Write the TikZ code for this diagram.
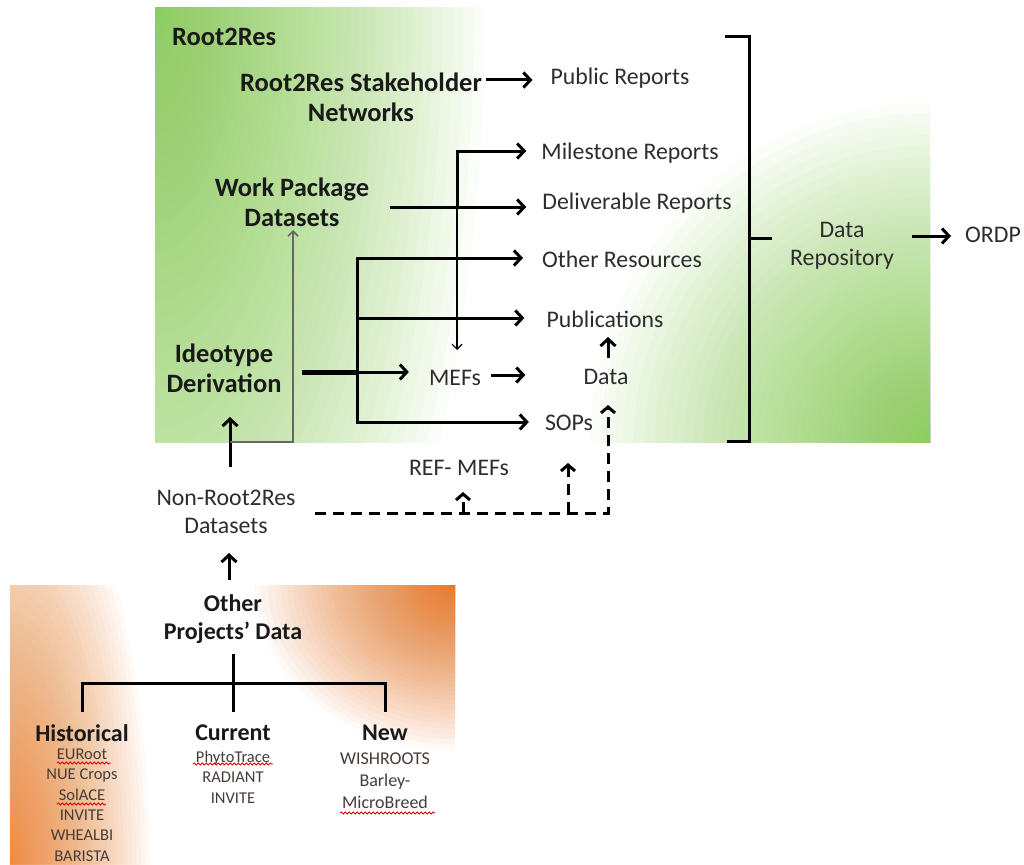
\documentclass[tikz,border=0pt]{standalone}
\usepackage{fontspec}
\setmainfont{Carlito}
\usetikzlibrary{arrows.meta,decorations.pathmorphing}
\definecolor{grnA}{RGB}{138,206,86}
\definecolor{orgA}{RGB}{232,115,30}
\definecolor{orgB}{RGB}{238,135,55}
\definecolor{ink}{RGB}{25,25,25}
\definecolor{ink2}{RGB}{45,45,45}
\definecolor{ink3}{RGB}{70,60,55}
\begin{document}
\begin{tikzpicture}[x=1pt,y=-1pt,
  bl/.style={font=\fontsize{26.5}{30}\selectfont\bfseries, align=center, inner sep=0pt, text=ink},
  bls/.style={font=\fontsize{24}{28}\selectfont\bfseries, align=center, inner sep=0pt, text=ink},
  rl/.style={font=\fontsize{23.8}{28}\selectfont, align=center, inner sep=0pt, text=ink2},
  sm/.style={font=\fontsize{16.5}{20.4}\selectfont, align=center, inner sep=0pt, text=ink3},
  smb/.style={font=\fontsize{18}{22}\selectfont, align=center, inner sep=0pt, text=ink3},
  arr/.style={line width=3pt, -{Straight Barb[length=7pt,width=15pt]}},
  thick3/.style={line width=3pt, line cap=rect},
  thinarr/.style={line width=1.2pt, -{Straight Barb[length=5pt,width=10pt]}},
  grarr/.style={line width=1.6pt, draw=black!60, -{Straight Barb[length=5pt,width=10pt]}},
  darr/.style={line width=3pt, dash pattern=on 11pt off 7pt, -{Straight Barb[length=6pt,width=14pt]}},
  squig/.style={draw=red!85!black, line width=0.8pt, decorate, decoration={snake, amplitude=1.1pt, segment length=4pt}},
  glow/.style={fill opacity=0.0377}
]
\useasboundingbox (0,0) rectangle (1024,864);
\fill[white] (0,0) rectangle (1024,864);
% green background: stacked translucent ellipses (quadratic radii)
\begin{scope}
\clip (155,8) rectangle (930,442);
\foreach \i in {1,...,60} {
  \fill[grnA, glow] (155,8) ellipse [x radius={\i*\i*0.09167}, y radius={\i*\i*0.2389}];
  \fill[grnA, glow] (930,442) ellipse [x radius={\i*\i*0.09444}, y radius={\i*\i*0.09444}];
}
\end{scope}
% orange background
\begin{scope}
\clip (10,585) rectangle (455,864);
\foreach \i in {1,...,60} {
  \fill[orgB, glow] (10,864) ellipse [x radius={\i*\i*0.03889}, y radius={\i*\i*0.11944}];
  \fill[orgA, glow] (455,585) ellipse [x radius={\i*\i*0.05556}, y radius={\i*\i*0.04583}];
}
\end{scope}

% texts green box
\node[bl, anchor=west] (title) at (172,37) {Root2Res};
\node[bl] (stake) at (361,97) {Root2Res Stakeholder\\Networks};
\node[rl] (pub) at (620,78) {Public Reports};
\node[rl] (mile) at (630,153) {Milestone Reports};
\node[rl] (deliv) at (637,203) {Deliverable Reports};
\node[rl] (other) at (622,259) {Other Resources};
\node[rl] (publ) at (605,319) {Publications};
\node[rl] (mefs) at (455,378) {MEFs};
\node[rl] (data) at (606,377) {Data};
\node[rl] (sops) at (569,423) {SOPs};
\node[bl] (wp) at (292,202) {Work Package\\Datasets};
\node[bl] (ideo) at (224,368) {Ideotype\\Derivation};
\node[rl] (repo) at (842,246) {Data\\Repository};
\node[rl] (ordp) at (993,235) {ORDP};
% outside
\node[rl] (nonr) at (226,512) {Non-Root2Res\\Datasets};
\node[rl] (ref) at (459,468) {REF- MEFs};
% orange box
\node[bls] (opd) at (233,619) {Other\\Projects’ Data};
\node[bls] (hist) at (82,733) {Historical};
\node[bls] (cur) at (233,733) {Current};
\node[bls] (new) at (385,733) {New};
\node[sm] (histl) at (82,805) {EURoot\\NUE Crops\\SolACE\\INVITE\\WHEALBI\\BARISTA};
\node[sm] (curl) at (233,777) {PhytoTrace\\RADIANT\\INVITE};
\node[smb] (newl) at (385,781) {WISHROOTS\\Barley-\\MicroBreed};
\draw[squig] (57,763) -- (111,763);
\draw[squig] (57,804) -- (106,804);
\draw[squig] (193,764) -- (273,764);
\draw[squig] (340,813) -- (435,813);

% coordinates
\coordinate (jm) at (457,207);
\coordinate (jv) at (357,372);
\coordinate (jd) at (608,513);

% connectors
\draw[arr] ([xshift=4pt]stake.north east |- 0,80) -- ([xshift=-18pt]pub.west |- 0,80);
\draw[arr] (390,207) -- ([xshift=-16pt]deliv.west |- jm);
\draw[arr, line join=miter] (jm) -- (457,151) -- ([xshift=-15pt]mile.west |- 0,151);
\draw[thinarr] (jm) -- (457,350);
\draw[line width=5pt] (302,372) -- (jv);
\draw[arr] (jv) -- ([xshift=-20pt]mefs.west |- jv);
\draw[thick3] (357,258) -- (357,422);
\draw[arr] (357,258) -- ([xshift=-19pt]other.west |- 0,258);
\draw[arr] (357,318) -- ([xshift=-22pt]publ.west |- 0,318);
\draw[arr] (357,422) -- ([xshift=-16pt]sops.west |- 0,422);
\draw[arr] ([xshift=10pt]mefs.east |- 0,375) -- ([xshift=-58pt]data.west |- 0,375);
\draw[arr] (608,358) -- (608,337);
% dashed
\draw[darr] (315,513) -- (jd) -- (608,405);
\draw[darr] (568,513) -- (568,463);
\draw[darr] (463,513) -- (463,492);
% from non-root2res
\draw[arr] (230,467) -- (230,417);
\draw[grarr] (230,442) -- (293,442) -- (293,230);
\draw[arr] (229,580) -- (229,553);
% tree
\draw[thick3] (233,655) -- (233,710);
\draw[thick3, line join=miter] (82,710) -- (82,683) -- (385,683) -- (385,710);
% bracket
\draw[line width=3pt, line join=miter] (725,37) -- (749,37) -- (749,441) -- (727,441);
\draw[line width=3pt] (749,238) -- (772,238);
\draw[arr] (912,236) -- ([xshift=-14pt]ordp.west |- 0,236);
\end{tikzpicture}
\end{document}
